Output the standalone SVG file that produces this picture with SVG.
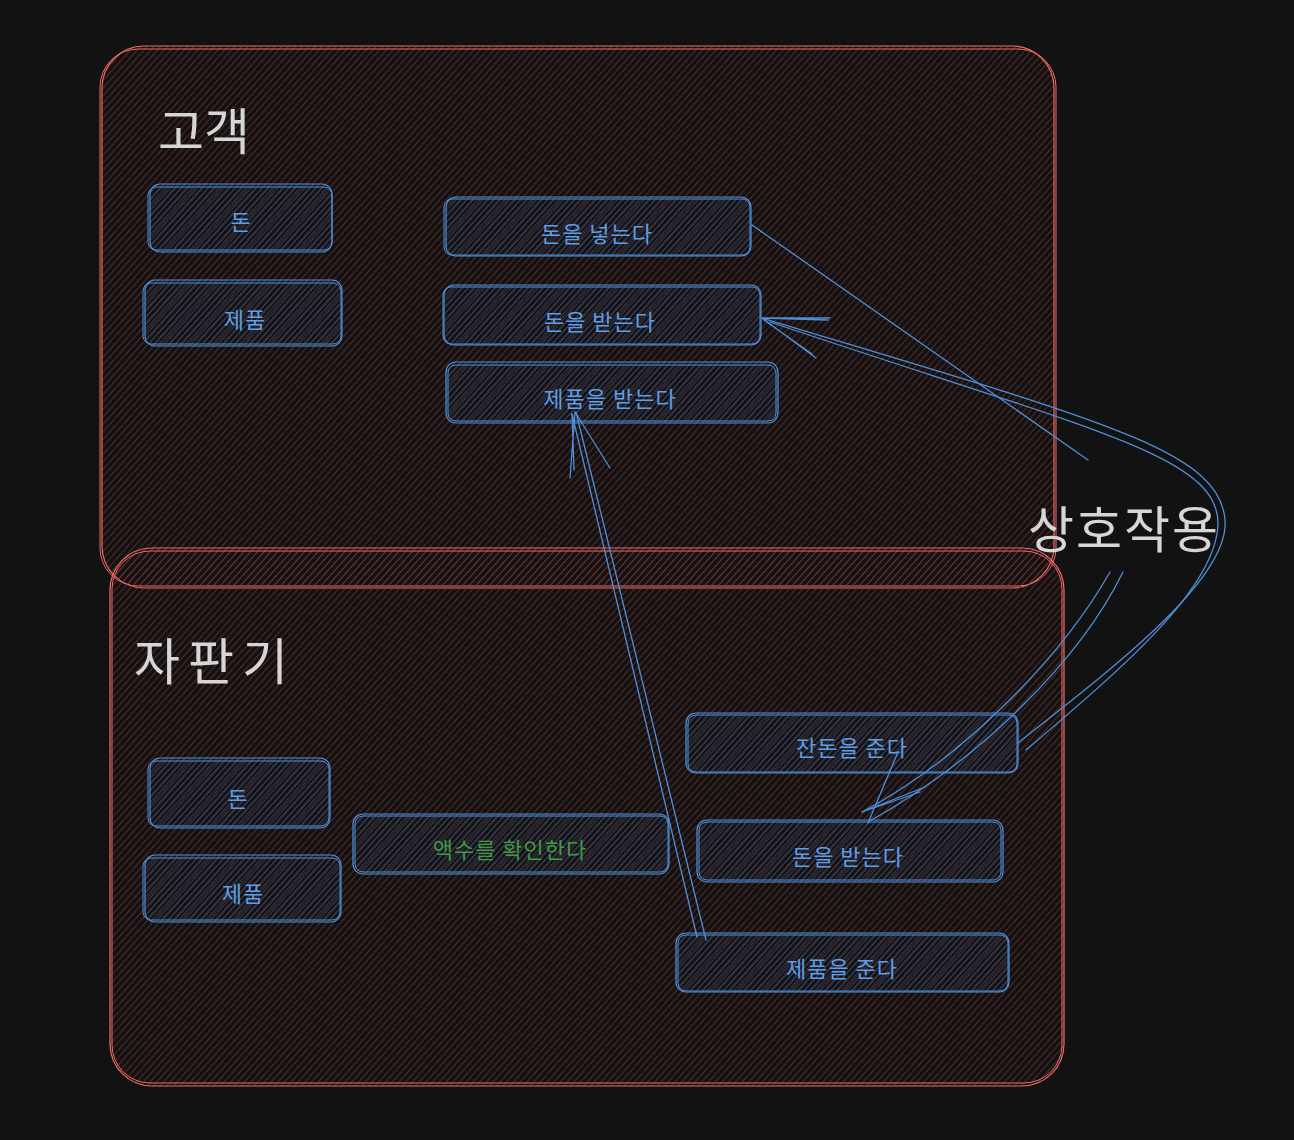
<svg xmlns="http://www.w3.org/2000/svg" width="1294" height="1140" viewBox="0 0 1294 1140">
<defs>
<pattern id="hatchR" patternUnits="userSpaceOnUse" width="5" height="5" patternTransform="rotate(42)">
<line x1="0" y1="0" x2="0" y2="5" stroke="#763232" stroke-width="1.4"/>
</pattern>
<pattern id="hatchB" patternUnits="userSpaceOnUse" width="4" height="4" patternTransform="rotate(42)">
<line x1="0" y1="0" x2="0" y2="4" stroke="#2a4d78" stroke-width="1.5"/>
</pattern>
<style>
.cont{fill:url(#hatchR);stroke:#ee6a66;stroke-width:1.2}
.cont2{fill:none;stroke:#ee6a66;stroke-width:1}
.node{fill:url(#hatchB);stroke:#4f8fd8;stroke-width:1.2}
.node2{fill:none;stroke:#4f8fd8;stroke-width:1}
.t{font-family:"Noto Sans CJK KR","Noto Sans",sans-serif;font-size:22px;letter-spacing:1px;fill:#5f9de4;text-anchor:middle;dominant-baseline:central}
.g{fill:#3f9a45}
.title{font-family:"Noto Sans CJK KR","Noto Sans",sans-serif;font-size:50px;fill:#d6d6d6;font-weight:400}
.c{fill:none;stroke:#4f8fd8;stroke-width:1.3;stroke-linecap:round}
</style>
</defs>
<rect width="1294" height="1140" fill="#121212"/>
<g id="customer">
<rect class="cont" x="102" y="46" width="952" height="542" rx="42"/>
<rect class="cont2" x="100" y="49" width="956" height="537" rx="38"/>
<text class="title" x="158" y="150">고객</text>
</g>
<g id="vending">
<rect class="cont" x="110" y="548" width="954" height="538" rx="42"/>
<rect class="cont2" x="112" y="551" width="950" height="532" rx="38"/>
<text class="title" x="134" y="680" letter-spacing="8">자판기</text>
</g>
<g id="c-money">
<rect class="node" x="150" y="184" width="182" height="68" rx="10"/>
<rect class="node2" x="148" y="187" width="184" height="63" rx="8"/>
<text class="t" x="241" y="220">돈</text>
</g>
<g id="c-product">
<rect class="node" x="145" y="280" width="197" height="66" rx="10"/>
<rect class="node2" x="143" y="283" width="198" height="61" rx="8"/>
<text class="t" x="245" y="318">제품</text>
</g>
<g id="c-insert">
<rect class="node" x="446" y="197" width="305" height="59" rx="10"/>
<rect class="node2" x="444" y="199" width="306" height="56" rx="8"/>
<text class="t" x="597" y="232">돈을 넣는다</text>
</g>
<g id="c-receive-money">
<rect class="node" x="444" y="285" width="317" height="60" rx="10"/>
<rect class="node2" x="443" y="287" width="317" height="57" rx="8"/>
<text class="t" x="600" y="320">돈을 받는다</text>
</g>
<g id="c-receive-product">
<rect class="node" x="446" y="362" width="332" height="61" rx="10"/>
<rect class="node2" x="448" y="365" width="328" height="56" rx="8"/>
<text class="t" x="610" y="397">제품을 받는다</text>
</g>
<g id="v-money">
<rect class="node" x="150" y="758" width="180" height="70" rx="10"/>
<rect class="node2" x="148" y="761" width="181" height="65" rx="8"/>
<text class="t" x="238" y="797">돈</text>
</g>
<g id="v-product">
<rect class="node" x="145" y="855" width="196" height="67" rx="10"/>
<rect class="node2" x="143" y="858" width="197" height="62" rx="8"/>
<text class="t" x="243" y="892">제품</text>
</g>
<g id="v-check">
<rect class="node" x="353" y="814" width="316" height="60" rx="10"/>
<rect class="node2" x="355" y="816" width="313" height="56" rx="8"/>
<text class="t g" x="510" y="848">액수를 확인한다</text>
</g>
<g id="v-change">
<rect class="node" x="686" y="713" width="332" height="60" rx="10"/>
<rect class="node2" x="688" y="715" width="329" height="57" rx="8"/>
<text class="t" x="852" y="746">잔돈을 준다</text>
</g>
<g id="v-receive-money">
<rect class="node" x="697" y="820" width="306" height="62" rx="10"/>
<rect class="node2" x="699" y="822" width="302" height="58" rx="8"/>
<text class="t" x="848" y="855">돈을 받는다</text>
</g>
<g id="v-give-product">
<rect class="node" x="676" y="933" width="333" height="59" rx="10"/>
<rect class="node2" x="678" y="935" width="330" height="56" rx="8"/>
<text class="t" x="842" y="967">제품을 준다</text>
</g>
<g id="interaction">
<text class="title" x="1028" y="548" letter-spacing="2">상호작용</text>
</g>
<g id="connectors">
<path class="c" d="M752 225 L1088 460" stroke-width="2.6"/>
<path class="c" d="M1018 743 C1110 670 1230 580 1225 520 C1220 450 1100 420 762 318"/>
<path class="c" d="M1026 750 C1120 670 1215 590 1218 525 C1220 455 1090 430 770 322"/>
<path class="c" d="M762 318 L830 318 M762 318 L828 320 M762 318 L816 358 M764 320 L812 354"/>
<path class="c" d="M1110 572 C1060 660 960 760 862 812"/>
<path class="c" d="M1123 572 C1080 660 980 760 868 822"/>
<path class="c" d="M862 812 L925 787 M862 812 L920 792 M868 823 L898 752"/>
<path class="c" d="M706 940 L576 412"/>
<path class="c" d="M697 937 L572 414"/>
<path class="c" d="M575 412 L570 478 M575 412 L610 468 M572 414 L574 470"/>
</g>
</svg>
